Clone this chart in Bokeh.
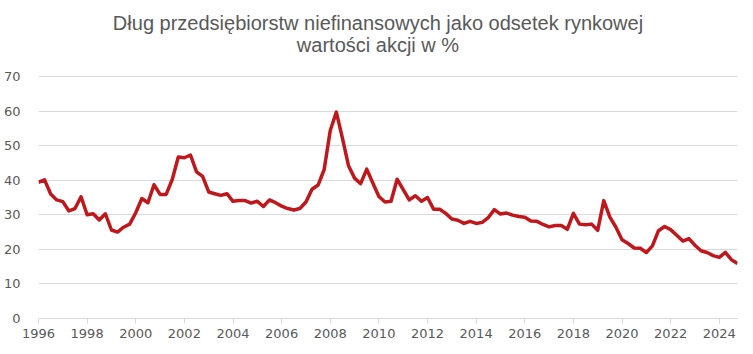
from bokeh.plotting import figure
from bokeh.models import Range1d, FixedTicker, Label, ColumnDataSource
from bokeh.embed import file_html
from bokeh.resources import INLINE

title_line1 = "Dług przedsiębiorstw niefinansowych jako odsetek rynkowej"
title_line2 = "wartości akcji w %"

start_year = 1996
quarters_per_year = 4
values = [
    39.4, 40.1, 36.0, 34.3,   # 1996
    33.8, 31.1, 31.8, 35.2,   # 1997
    30.0, 30.3, 28.5, 30.3,   # 1998
    25.6, 25.0, 26.4, 27.3,   # 1999
    30.6, 34.7, 33.5, 38.7,   # 2000
    35.9, 35.9, 40.2, 46.7,   # 2001
    46.5, 47.3, 42.4, 41.1,   # 2002
    36.6, 36.1, 35.6, 36.1,   # 2003
    33.9, 34.1, 34.1, 33.4,   # 2004
    33.9, 32.4, 34.3, 33.5,   # 2005
    32.5, 31.8, 31.4, 31.8,   # 2006
    33.7, 37.4, 38.6, 43.1,   # 2007
    54.4, 59.7, 52.2, 44.2,   # 2008
    40.6, 39.0, 43.2, 39.2,   # 2009
    35.3, 33.7, 33.9, 40.3,   # 2010
    37.3, 34.3, 35.5, 33.9,   # 2011
    35.0, 31.6, 31.6, 30.4,   # 2012
    28.8, 28.4, 27.5, 28.1,   # 2013
    27.5, 27.8, 29.2, 31.5,   # 2014
    30.2, 30.5, 29.9, 29.5,   # 2015
    29.3, 28.2, 28.1, 27.2,   # 2016
    26.5, 26.9, 26.9, 25.8,   # 2017
    30.4, 27.3, 27.1, 27.3,   # 2018
    25.5, 34.1, 29.3, 26.4,   # 2019
    22.8, 21.7, 20.4, 20.3,   # 2020
    19.1, 21.0, 25.4, 26.6,   # 2021
    25.7, 24.1, 22.4, 23.1,   # 2022
    21.2, 19.6, 19.1, 18.2,   # 2023
    17.7, 19.1, 17.0, 15.9,   # 2024
]
x_ticks = [1996, 1998, 2000, 2002, 2004, 2006, 2008, 2010, 2012, 2014, 2016, 2018, 2020, 2022, 2024]
y_ticks = [0, 10, 20, 30, 40, 50, 60, 70]

times = [start_year + i / quarters_per_year for i in range(len(values))]
src = ColumnDataSource(dict(t=times, v=values))

TEXT = "#595959"
GRID = "#d9d9d9"
W, H = 753, 354
B_LEFT, B_RIGHT, B_BOTTOM = 37, 16, 36
PLOT_TOP = 76                      # canvas y of the value 70
FRAME_H = H - B_BOTTOM             # frame reaches the top of the canvas
y_max = y_ticks[-1] * FRAME_H / (FRAME_H - PLOT_TOP)

p = figure(width=W, height=H, output_backend="svg", toolbar_location=None,
           x_range=Range1d(times[0], times[-1]), y_range=Range1d(0, y_max),
           min_border_left=B_LEFT, min_border_right=B_RIGHT,
           min_border_top=0, min_border_bottom=B_BOTTOM)
p.outline_line_color = None
p.background_fill_color = "white"
p.border_fill_color = "white"
p.title = None

for txt, baseline_y in ((title_line1, 22), (title_line2, 44)):
    p.add_layout(Label(x=W / 2 - B_LEFT, y=FRAME_H - baseline_y,
                       x_units="screen", y_units="screen", text=txt,
                       text_align="center", text_baseline="alphabetic",
                       text_font="Liberation Sans", text_font_size="20px",
                       text_color=TEXT))

p.line("t", "v", source=src, line_color="#C0171C", line_width=3.5, line_join="round")

p.xgrid.grid_line_color = None
p.ygrid.grid_line_color = GRID
p.ygrid.grid_line_width = 1
p.yaxis.ticker = FixedTicker(ticks=y_ticks)
p.xaxis.ticker = FixedTicker(ticks=x_ticks)

for ax in (p.xaxis[0], p.yaxis[0]):
    ax.major_label_text_font = "DejaVu Sans"
    ax.major_label_text_font_size = "13px"
    ax.major_label_text_color = TEXT
    ax.minor_tick_line_color = None

p.yaxis.axis_line_color = None
p.yaxis.major_tick_line_color = None
p.yaxis.major_label_standoff = 12
p.xaxis.axis_line_color = GRID
p.xaxis.major_tick_line_color = GRID
p.xaxis.major_tick_in = 0
p.xaxis.major_tick_out = 5
p.xaxis.major_label_standoff = 5

open("out.html", "w").write(file_html(p, INLINE))
